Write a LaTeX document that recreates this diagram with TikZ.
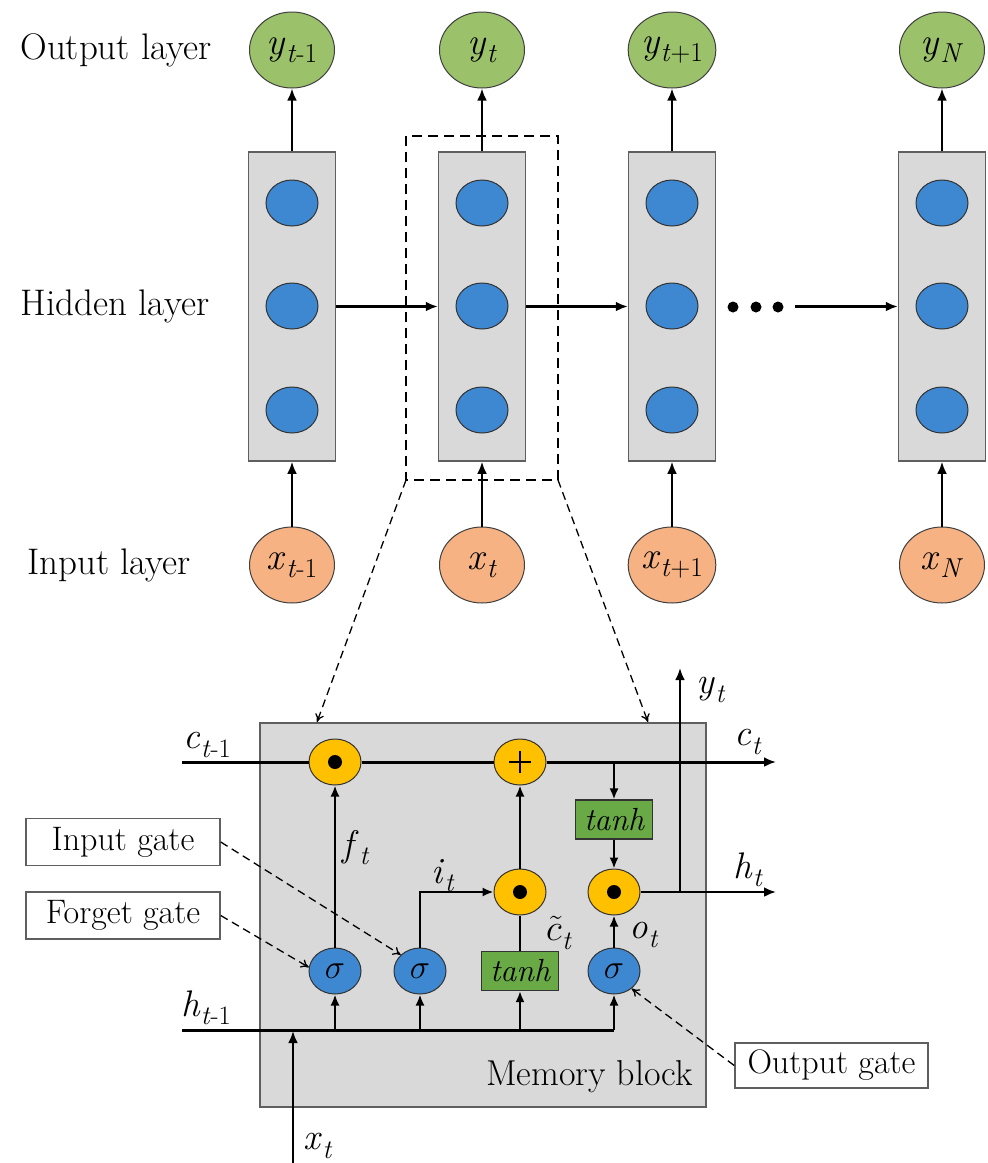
\RequirePackage{fix-cm}
\documentclass[tikz,border=0pt]{standalone}
\usepackage{graphicx}
\usetikzlibrary{arrows.meta,shapes.geometric}
\definecolor{outgreen}{RGB}{155,194,106}
\definecolor{hidblue}{RGB}{62,136,210}
\definecolor{inorange}{RGB}{246,178,130}
\definecolor{boxgray}{RGB}{217,217,217}
\definecolor{gateyellow}{RGB}{255,192,0}
\definecolor{tanhgreen}{RGB}{106,170,70}
\definecolor{edgegray}{RGB}{95,95,95}
\newcommand{\lbl}[2]{\textit{#1}\kern0.5pt\raisebox{-0.22em}{\scalebox{0.72}{#2}}}
\newcommand{\ctil}{$\tilde{c}$}
\tikzset{
  bigfont/.style={font=\fontsize{37}{39}\selectfont},
  lblfont/.style={font=\fontsize{37}{38}\selectfont, inner sep=0pt},
  outnode/.style={ellipse, draw=black!75, line width=1pt, fill=outgreen, minimum width=85pt, minimum height=76pt, inner sep=0pt, font=\fontsize{38}{40}\selectfont},
  innode/.style={outnode, fill=inorange},
  hidbox/.style={rectangle, draw=edgegray, line width=1.5pt, fill=boxgray, minimum width=87pt, minimum height=309pt, inner sep=0pt},
  neuron/.style={ellipse, draw=black!80, line width=1pt, fill=hidblue, minimum width=52pt, minimum height=46pt, inner sep=0pt},
  sig/.style={neuron, font=\fontsize{34}{34}\selectfont},
  gateop/.style={ellipse, draw=black!80, line width=1pt, fill=gateyellow, minimum width=52pt, minimum height=46pt, inner sep=0pt},
  tanhbox/.style={rectangle, draw=black!80, line width=1.2pt, fill=tanhgreen, minimum width=77pt, minimum height=39pt, inner sep=0pt, font=\fontsize{32}{32}\selectfont\itshape},
  gatelbl/.style={rectangle, draw=edgegray, line width=1.5pt, fill=white, minimum width=194pt, minimum height=47pt, inner sep=0pt, font=\fontsize{34}{36}\selectfont},
  membox/.style={rectangle, draw=edgegray, line width=1.5pt, fill=boxgray, minimum width=446pt, minimum height=384pt, inner sep=0pt},
  arr/.style={line width=2.4pt, -{Latex[length=12pt,width=10pt]}},
  thinarr/.style={line width=2pt, -{Latex[length=11pt,width=9pt]}},
  plain/.style={line width=2pt},
  thick3/.style={line width=3pt},
  dasharr/.style={line width=1.3pt, dash pattern=on 8pt off 5pt, -{To[length=8pt,width=9pt]}},
  dashbox/.style={line width=1.5pt, dash pattern=on 10pt off 6pt}
}
\begin{document}
\begin{tikzpicture}[x=1pt,y=-1pt]
\useasboundingbox (0,0) rectangle (988,1163);
% layer labels
\node[bigfont] (lout) at (116,50) {Output layer};
\node[bigfont] (lhid) at (115,306) {Hidden layer};
\node[bigfont] (lin) at (109,565) {Input layer};
% dashed zoom box
\draw[dashbox] (406,136) rectangle (558,480);
\coordinate (zbl) at (406,480);
\coordinate (zbr) at (558,480);
% columns
\foreach \i/\cx/\ylab/\xlab in {1/292/{\lbl{y}{\textit{t}-1}}/{\lbl{x}{\textit{t}-1}},2/482/{\lbl{y}{\textit{t}}}/{\lbl{x}{\textit{t}}},3/672/{\lbl{y}{\textit{t}+1}}/{\lbl{x}{\textit{t}+1}},4/942/{\lbl{y}{\textit{N}}}/{\lbl{x}{\textit{N}}}}{
  \node[outnode] (out\i) at (\cx,50) {\ylab};
  \node[hidbox] (hid\i) at (\cx,306.5) {};
  \node[neuron] (na\i) at (\cx,203) {};
  \node[neuron] (nb\i) at (\cx,306) {};
  \node[neuron] (nc\i) at (\cx,410) {};
  \node[innode] (in\i) at (\cx,565) {\xlab};
  \draw[arr] (hid\i.north) -- (out\i.south);
  \draw[arr] (in\i.north) -- (hid\i.south);
}
\draw[arr] (hid1.east) -- (hid2.west);
\draw[arr] (hid2.east) -- (hid3.west);
\fill (733,307) circle (5.5pt) (756,307) circle (5.5pt) (778,307) circle (5.5pt);
\coordinate (dotsend) at (795,306.5);
\draw[arr] (dotsend) -- (hid4.west);
% memory block
\node[membox] (mem) at (483,915) {};
\node[font=\fontsize{36}{38}\selectfont, anchor=east, inner sep=0pt] (memlbl) at (693,1077) {Memory block};
\coordinate (ta) at (317,722);
\coordinate (tb) at (648,722);
\draw[dasharr] (zbl) -- (ta);
\draw[dasharr] (zbr) -- (tb);
% gates
\node[gateop] (mf) at (335,762) {};
\node[gateop] (pl) at (520,762) {};
\node[tanhbox] (th1) at (614,819.5) {tanh};
\node[gateop] (mi) at (520,892) {};
\node[gateop] (mo) at (614,892) {};
\node[sig] (s1) at (335,971) {$\sigma$};
\node[sig] (s2) at (420,971) {$\sigma$};
\node[tanhbox] (th2) at (520,971) {tanh};
\node[sig] (s3) at (614,971) {$\sigma$};
\fill (mf) circle (7pt) (mi) circle (7pt) (mo) circle (7pt);
\draw[line width=2pt] ([xshift=-11pt]pl.center) -- ([xshift=11pt]pl.center) ([yshift=-11pt]pl.center) -- ([yshift=11pt]pl.center);
% cell line
\coordinate (cin) at (182,762);
\coordinate (cout) at (776,762);
\coordinate (cbr) at (614,762);
\draw[thick3] (cin) -- (mf.west);
\draw[thick3] (mf.east) -- (pl.west);
\draw[thick3, -{Latex[length=12pt,width=10pt]}] (pl.east) -- (cout);
\draw[thinarr] (cbr) -- (th1.north);
\draw[thinarr] (th1.south) -- (mo.north);
% hidden output
\coordinate (hout) at (776,892);
\coordinate (ybr) at (680,892);
\coordinate (ytop) at (680,668);
\draw[line width=2.4pt, -{Latex[length=12pt,width=10pt]}] (mo.east) -- (hout);
\draw[line width=2.4pt, -{Latex[length=12pt,width=10pt]}] (ybr) -- (ytop);
% inner connections
\draw[thinarr] (s1.north) -- (mf.south);
\coordinate (s2up) at (420,892);
\draw[thinarr] (s2.north) -- (s2up) -- (mi.west);
\draw[plain] (th2.north) -- (mi.south);
\draw[thinarr] (mi.north) -- (pl.south);
\draw[thinarr] (s3.north) -- (mo.south);
% h_{t-1} line
\coordinate (hin) at (182,1030);
\coordinate (h1) at (335,1030);
\coordinate (h2) at (420,1030);
\coordinate (h3) at (520,1030);
\coordinate (h4) at (614,1030);
\draw[thick3] (hin) -- (h4);
\draw[thinarr] (h1) -- (s1.south);
\draw[thinarr] (h2) -- (s2.south);
\draw[thinarr] (h3) -- (th2.south);
\draw[thinarr] (h4) -- (s3.south);
\coordinate (xb) at (293,1163);
\coordinate (xa) at (293,1031);
\draw[arr] (xb) -- (xa);
% labels
\node[lblfont] (lcp) at (207,745) {\lbl{c}{\textit{t}-1}};
\node[lblfont] (lct) at (748,742) {\lbl{c}{\textit{t}}};
\node[lblfont] (lht) at (748,870) {\lbl{h}{\textit{t}}};
\node[lblfont] (lyt) at (711,690) {\lbl{y}{\textit{t}}};
\node[lblfont] (lft) at (356,848) {\lbl{f}{\textit{t}}};
\node[lblfont] (lit) at (443,876) {\lbl{i}{\textit{t}}};
\node[lblfont] (lct2) at (559,933) {\lbl{\ctil}{\textit{t}}};
\node[lblfont] (lot) at (644,935) {\lbl{o}{\textit{t}}};
\node[lblfont] (lhp) at (206,1008) {\lbl{h}{\textit{t}-1}};
\node[lblfont] (lxt) at (318,1146) {\lbl{x}{\textit{t}}};
% gate labels
\node[gatelbl] (ig) at (123,842) {Input gate};
\node[gatelbl] (fg) at (123,915.5) {Forget gate};
\node[gatelbl, minimum width=193pt, minimum height=45pt] (og) at (831.5,1065.5) {Output gate};
\draw[dasharr] (ig.east) -- (s2.140);
\draw[dasharr] (fg.east) -- (s1.172);
\draw[dasharr] (og.west) -- (s3.-45);
\end{tikzpicture}
\end{document}
